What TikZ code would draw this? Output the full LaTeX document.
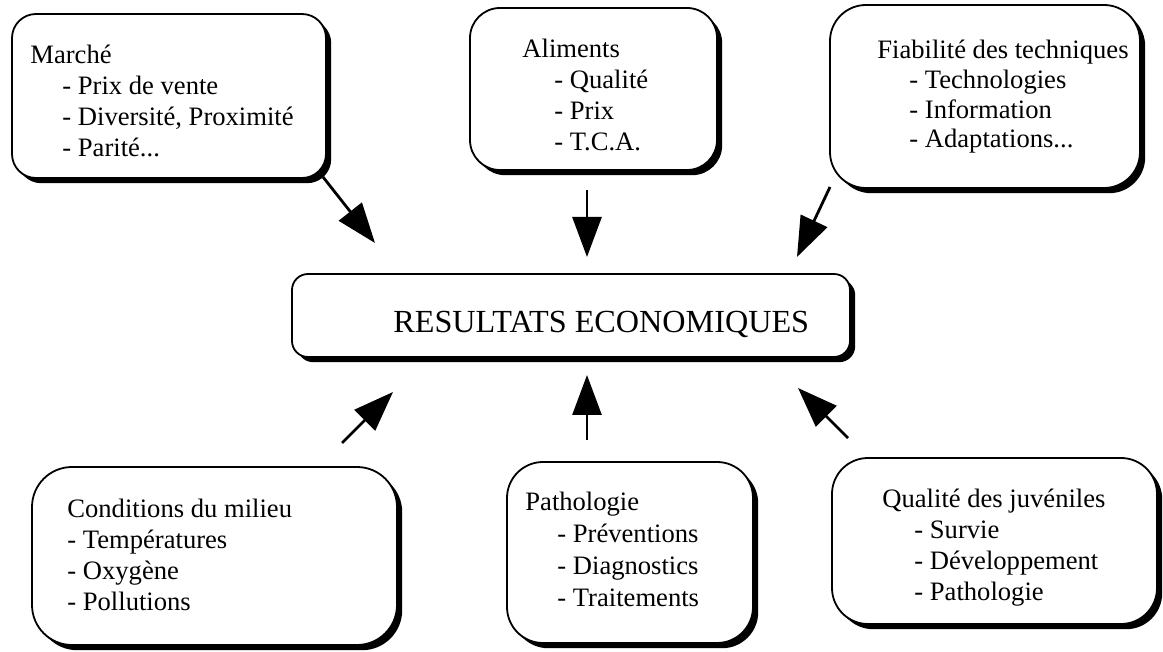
\documentclass[tikz,border=0pt]{standalone}
\usepackage{fontspec}
\setmainfont{Liberation Serif}
\usetikzlibrary{arrows.meta,shadows}

\newcommand{\ind}{\hspace*{16pt}}
\tikzset{
  box/.style={draw=black, line width=0.9pt, fill=white,
    drop shadow={shadow xshift=2.6pt, shadow yshift=-2.6pt, fill=black, opacity=1}},
  txt/.style={anchor=north west, align=left, inner sep=0pt,
    font=\fontsize{13.3pt}{15.5pt}\selectfont},
  arr/.style={line width=1.4pt, -{Triangle[length=20pt,width=14.5pt]}}
}

\begin{document}
\begin{tikzpicture}[x=0.5pt, y=-0.5pt]
  \useasboundingbox (0,0) rectangle (1163,652);

  % boxes
  \node[box, rounded corners=12pt, minimum width=157pt, minimum height=82pt] (marche) at (169,96) {};
  \node[box, rounded corners=15pt, minimum width=123.5pt, minimum height=81pt] (aliments) at (593.5,89) {};
  \node[box, rounded corners=18pt, minimum width=155pt, minimum height=91.5pt] (fiab) at (985,96.5) {};
  \node[box, rounded corners=8pt, minimum width=279pt, minimum height=41.5pt] (res) at (571,315.5) {};
  \node[box, rounded corners=20pt, minimum width=182.5pt, minimum height=89pt] (milieu) at (214.5,556) {};
  \node[box, rounded corners=18pt, minimum width=123pt, minimum height=90.5pt] (patho) at (630,552.5) {};
  \node[box, rounded corners=18pt, minimum width=162.5pt, minimum height=83pt] (juv) at (994.5,541) {};

  % texts
  \node[txt] (marcheTxt) at (30,45) {Marché\\ \ind- Prix de vente\\ \ind- Diversité, Proximité\\ \ind- Parité...};
  \node[txt] (alimentsTxt) at (522,39) {Aliments\\ \ind- Qualité\\ \ind- Prix\\ \ind- T.C.A.};
  \node[txt, font=\fontsize{13.3pt}{14.8pt}\selectfont] (fiabTxt) at (877,40) {Fiabilité des techniques\\ \ind- Technologies\\ \ind- Information\\ \ind- Adaptations...};
  \node[txt, font=\fontsize{16.1pt}{18pt}\selectfont] (resTxt) at (393,311) {RESULTATS ECONOMIQUES};
  \node[txt] (milieuTxt) at (67,499) {Conditions du milieu\\ - Températures\\ - Oxygène\\ - Pollutions};
  \node[txt, font=\fontsize{13.3pt}{16pt}\selectfont] (pathoTxt) at (525,492) {Pathologie\\ \ind- Préventions\\ \ind- Diagnostics\\ \ind- Traitements};
  \node[txt] (juvTxt) at (882,489) {Qualité des juvéniles\\ \ind- Survie\\ \ind- Développement\\ \ind- Pathologie};

  % arrows towards the result
  \foreach \n/\xa/\ya/\xb/\yb in {1/323/177/375/243, 2/587/190/587/257, 3/830/187/797/257,
                                  4/342/443/393/392, 5/587/440/587/375, 6/848/438/798/388}{
    \coordinate (from\n) at (\xa,\ya);
    \coordinate (to\n) at (\xb,\yb);
    \draw[arr] (from\n) -- (to\n);
  }
\end{tikzpicture}
\end{document}
